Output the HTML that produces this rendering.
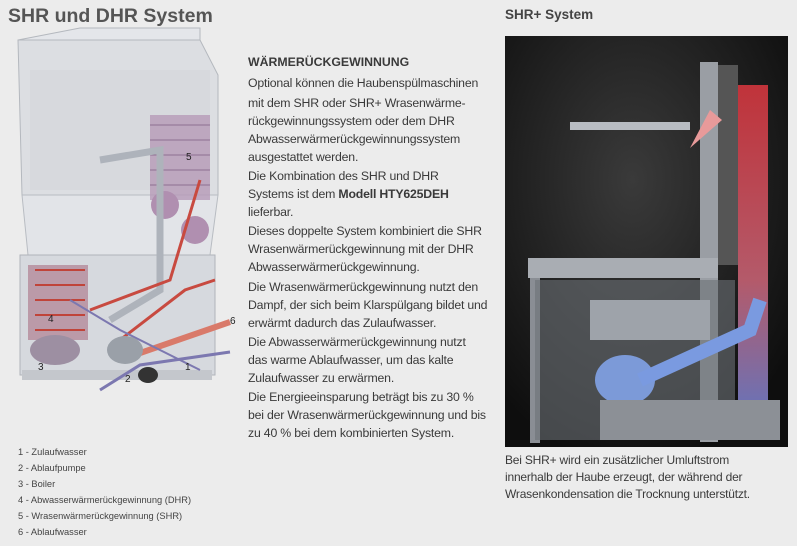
<!DOCTYPE html>
<html><head><meta charset="utf-8"><style>
body{margin:0;width:797px;height:546px;background:#ececec;overflow:hidden;position:relative;font-family:"Liberation Sans",sans-serif;color:#3a3a3a}
.t{position:absolute;white-space:nowrap}
.b{font-size:12.3px;letter-spacing:-0.2px}
.lg{font-size:9.3px;color:#444;left:18px}
</style></head><body>
<div class="t" style="left:8px;top:5px;font-size:19.5px;font-weight:bold;color:#555">SHR und DHR System</div>
<div class="t" style="left:505px;top:7px;font-size:13.5px;font-weight:bold;color:#444">SHR+ System</div>

<svg style="position:absolute;left:0;top:0" width="797" height="546">
 <polygon points="18,40 200,40 218,75 218,195 22,195" fill="#dcdee2" stroke="#b4b8be"/>
 <polygon points="18,40 80,28 200,28 200,40" fill="#e4e6ea" stroke="#b4b8be"/>
 <rect x="30" y="70" width="180" height="120" fill="#d4d7dc" opacity=".7"/>
 <polygon points="22,195 218,195 210,255 28,255" fill="#e2e4e8" stroke="#b8bcc2"/>
 <polygon points="20,255 215,255 215,375 20,375" fill="#d6d9de" stroke="#b0b4ba"/>
 <rect x="22" y="370" width="190" height="10" fill="#c4c7cc"/>
 <rect x="150" y="115" width="60" height="85" fill="#b79ab8" opacity=".8"/>
 <g stroke="#8d6f90" stroke-width="1">
  <line x1="150" y1="125" x2="210" y2="125"/><line x1="150" y1="140" x2="210" y2="140"/><line x1="150" y1="155" x2="210" y2="155"/><line x1="150" y1="170" x2="210" y2="170"/><line x1="150" y1="185" x2="210" y2="185"/>
 </g>
 <circle cx="165" cy="205" r="14" fill="#b08fb0"/><circle cx="195" cy="230" r="14" fill="#b08fb0"/>
 <rect x="28" y="265" width="60" height="75" fill="#bb9aa8"/>
 <g stroke="#c0443a" stroke-width="2" fill="none">
  <path d="M35 270 L85 270 M35 285 L85 285 M35 300 L85 300 M35 315 L85 315 M35 330 L85 330"/>
 </g>
 <ellipse cx="55" cy="350" rx="25" ry="15" fill="#9d8fa2"/>
 <path d="M100 160 L160 150 L160 290 L110 320" stroke="#aeb3bb" stroke-width="7" fill="none"/>
 <path d="M120 340 L185 290 L215 280" stroke="#c84a40" stroke-width="3" fill="none"/>
 <path d="M90 310 L170 280 L200 180" stroke="#c84a40" stroke-width="3" fill="none"/>
 <path d="M120 360 L230 322" stroke="#d97a6a" stroke-width="6" fill="none"/>
 <path d="M100 390 L140 365 L230 352" stroke="#7c78b0" stroke-width="3" fill="none"/>
 <path d="M70 300 L120 330 L200 370" stroke="#7c78b0" stroke-width="2" fill="none"/>
 <ellipse cx="125" cy="350" rx="18" ry="14" fill="#9aa0a8"/>
 <ellipse cx="148" cy="375" rx="10" ry="8" fill="#333"/>
 <g font-size="10" fill="#222" font-family="Liberation Sans">
  <text x="186" y="160">5</text><text x="48" y="322">4</text><text x="38" y="370">3</text><text x="125" y="382">2</text><text x="185" y="370">1</text><text x="230" y="324">6</text>
 </g>
 <defs>
  <radialGradient id="g" cx=".45" cy=".35" r=".7"><stop offset="0" stop-color="#3a3a3a"/><stop offset="1" stop-color="#0e0e0e"/></radialGradient>
  <linearGradient id="r" x1="0" y1="0" x2="0" y2="1"><stop offset="0" stop-color="#c0333a"/><stop offset=".55" stop-color="#b45a6a"/><stop offset="1" stop-color="#5a78c8"/></linearGradient>
 </defs>
 <rect x="505" y="36" width="283" height="411" fill="url(#g)"/>
 <rect x="700" y="62" width="18" height="380" fill="#9a9ea4"/>
 <rect x="738" y="85" width="30" height="355" fill="url(#r)"/>
 <rect x="718" y="65" width="20" height="200" fill="#555"/>
 <rect x="570" y="122" width="120" height="8" fill="#b8bcc2"/>
 <polygon points="690,148 710,110 722,120" fill="#e89a9a"/>
 <rect x="528" y="258" width="190" height="20" fill="#a9adb3"/>
 <rect x="530" y="278" width="10" height="165" fill="#8a8e94"/>
 <rect x="535" y="280" width="200" height="160" fill="#6d7177" opacity=".6"/>
 <rect x="590" y="300" width="120" height="40" fill="#9ea3aa"/>
 <ellipse cx="625" cy="380" rx="30" ry="25" fill="#7c9ad8"/>
 <path d="M640 380 L750 330 L760 300" stroke="#7a9ae0" stroke-width="14" fill="none"/>
 <rect x="600" y="400" width="180" height="40" fill="#8c9096"/>
</svg>

<div class="t" style="left:248px;top:55px;font-size:12.3px;font-weight:bold">WÄRMERÜCKGEWINNUNG</div>
<div class="t b" style="left:248px;top:76px">Optional können die Haubenspülmaschinen</div>
<div class="t b" style="left:248px;top:96px">mit dem SHR oder SHR+ Wrasenwärme-</div>
<div class="t b" style="left:248px;top:114px">rückgewinnungssystem oder dem DHR</div>
<div class="t b" style="left:248px;top:132px">Abwasserwärmerückgewinnungssystem</div>
<div class="t b" style="left:248px;top:150px">ausgestattet werden.</div>
<div class="t b" style="left:248px;top:169px">Die Kombination des SHR und DHR</div>
<div class="t b" style="left:248px;top:187px">Systems ist dem <b>Modell HTY625DEH</b></div>
<div class="t b" style="left:248px;top:205px">lieferbar.</div>
<div class="t b" style="left:248px;top:224px">Dieses doppelte System kombiniert die SHR</div>
<div class="t b" style="left:248px;top:242px">Wrasenwärmerückgewinnung mit der DHR</div>
<div class="t b" style="left:248px;top:260px">Abwasserwärmerückgewinnung.</div>
<div class="t b" style="left:248px;top:280px">Die Wrasenwärmerückgewinnung nutzt den</div>
<div class="t b" style="left:248px;top:298px">Dampf, der sich beim Klarspülgang bildet und</div>
<div class="t b" style="left:248px;top:316px">erwärmt dadurch das Zulaufwasser.</div>
<div class="t b" style="left:248px;top:335px">Die Abwasserwärmerückgewinnung nutzt</div>
<div class="t b" style="left:248px;top:353px">das warme Ablaufwasser, um das kalte</div>
<div class="t b" style="left:248px;top:371px">Zulaufwasser zu erwärmen.</div>
<div class="t b" style="left:248px;top:390px">Die Energieeinsparung beträgt bis zu 30 %</div>
<div class="t b" style="left:248px;top:408px">bei der Wrasenwärmerückgewinnung und bis</div>
<div class="t b" style="left:248px;top:426px">zu 40 % bei dem kombinierten System.</div>

<div class="t lg" style="top:447px">1 - Zulaufwasser</div>
<div class="t lg" style="top:463px">2 - Ablaufpumpe</div>
<div class="t lg" style="top:479px">3 - Boiler</div>
<div class="t lg" style="top:495px">4 - Abwasserwärmerückgewinnung (DHR)</div>
<div class="t lg" style="top:511px">5 - Wrasenwärmerückgewinnung (SHR)</div>
<div class="t lg" style="top:527px">6 - Ablaufwasser</div>

<div class="t b" style="left:505px;top:453px;font-size:12px">Bei SHR+ wird ein zusätzlicher Umluftstrom</div>
<div class="t b" style="left:505px;top:470px;font-size:12px">innerhalb der Haube erzeugt, der während der</div>
<div class="t b" style="left:505px;top:487px;font-size:12px">Wrasenkondensation die Trocknung unterstützt.</div>
</body></html>
